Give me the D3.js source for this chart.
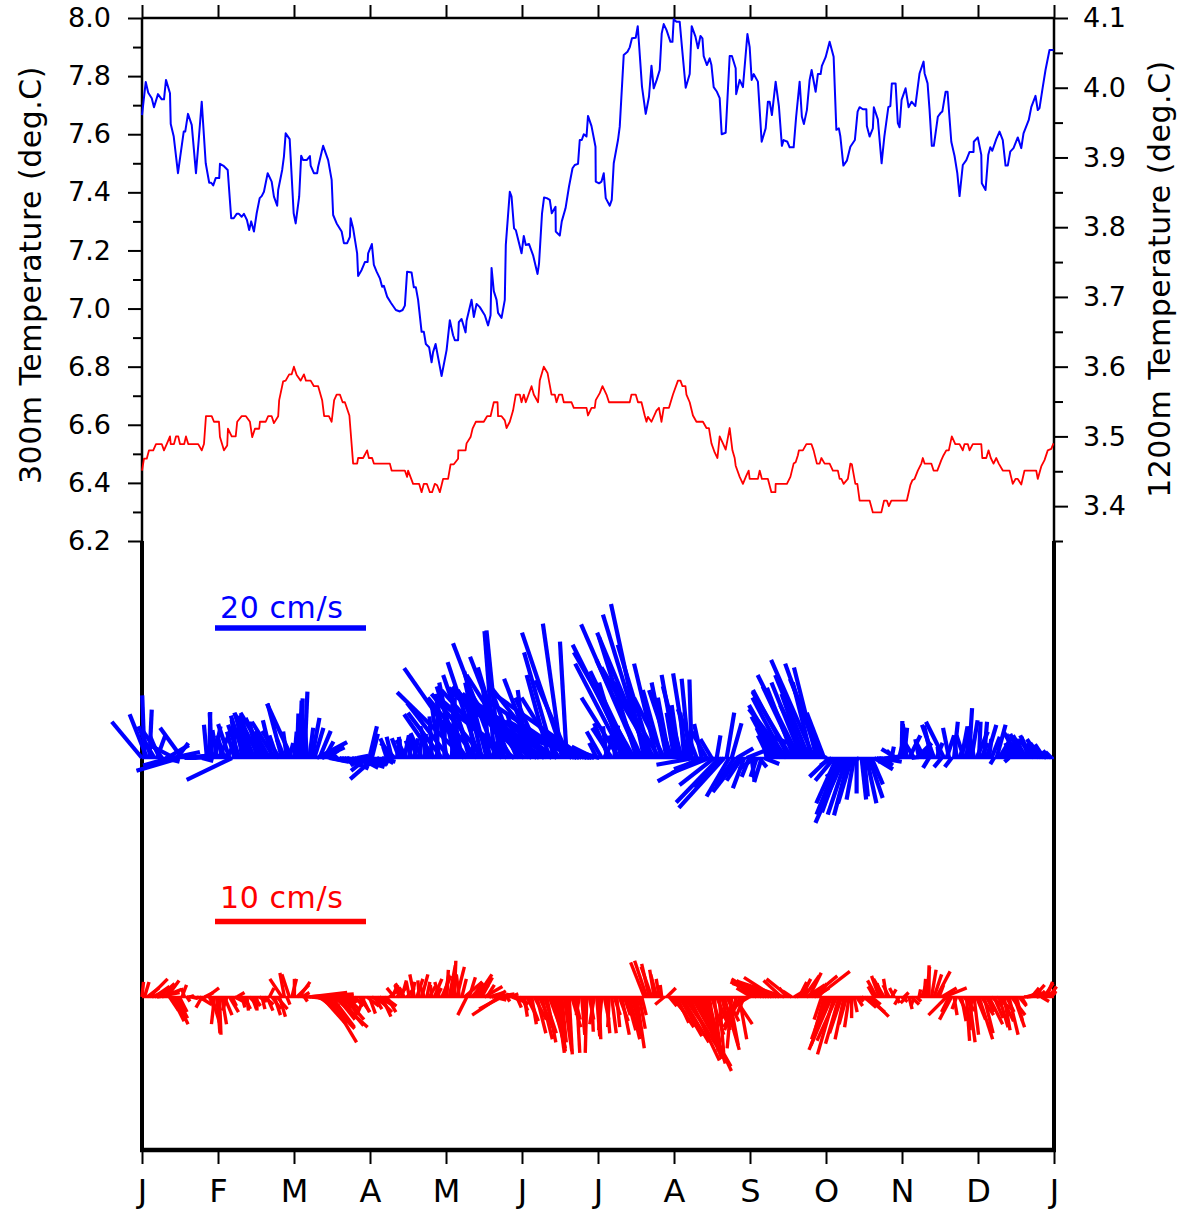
<!DOCTYPE html>
<html><head><meta charset="utf-8">
<script src="https://cdn.jsdelivr.net/npm/d3@7"></script>
<style>
body{margin:0;background:#fff}
text{font-family:"DejaVu Sans",Verdana,sans-serif}
</style></head>
<body><svg id="c" width="1187" height="1210"></svg>
<script>
// ---------- DATA ----------
const monthLabels = ["J","F","M","A","M","J","J","A","S","O","N","D","J"];
const monthTicks = [0,30.42,60.83,91.25,121.67,152.08,182.5,212.92,243.33,273.75,304.17,334.58,365];
const leftTicks = [6.2,6.4,6.6,6.8,7.0,7.2,7.4,7.6,7.8,8.0];
const leftMinor = [6.3,6.5,6.7,6.9,7.1,7.3,7.5,7.7,7.9];
const rightTicks = [3.4,3.5,3.6,3.7,3.8,3.9,4.0,4.1];
const rightMinor = [3.35,3.45,3.55,3.65,3.75,3.85,3.95,4.05];

// 300 m temperature: [day of year, deg C]
const temp300 = [[0,7.666],[1.5,7.78],[2.5,7.743],[3.9,7.724],[4.8,7.693],[6.4,7.738],[7.9,7.72],[8.8,7.72],[9.6,7.787],[11.2,7.741],[11.5,7.635],[12.7,7.592],[14.4,7.466],[15.3,7.523],[16.7,7.609],[17.3,7.609],[18.4,7.67],[19.9,7.632],[21.6,7.466],[22.7,7.58],[23.9,7.712],[25.5,7.5],[26.9,7.433],[27.7,7.433],[28.5,7.424],[29.5,7.449],[30.9,7.449],[31.2,7.498],[32.8,7.49],[34.3,7.477],[35.7,7.311],[36.7,7.311],[37.9,7.326],[38.8,7.326],[39.9,7.316],[40.8,7.326],[42.0,7.305],[42.9,7.27],[43.7,7.3],[44.8,7.265],[45.9,7.328],[47.1,7.38],[47.9,7.387],[48.8,7.402],[50.3,7.466],[51.9,7.437],[52.8,7.385],[54.1,7.354],[54.5,7.408],[56.1,7.477],[56.8,7.523],[57.5,7.603],[59.1,7.583],[60.7,7.328],[61.5,7.293],[62.9,7.385],[63.7,7.526],[64.5,7.511],[65.9,7.511],[67.2,7.525],[67.5,7.492],[68.8,7.466],[70.1,7.466],[70.5,7.488],[72.5,7.56],[74.5,7.511],[75.9,7.443],[76.5,7.322],[77.9,7.293],[79.9,7.265],[80.8,7.225],[82.1,7.225],[83.2,7.247],[83.5,7.311],[84.5,7.276],[86.1,7.19],[86.5,7.112],[87.9,7.133],[89.2,7.16],[90.3,7.16],[90.5,7.19],[92.0,7.222],[92.8,7.15],[93.9,7.127],[95.2,7.104],[96.1,7.075],[96.8,7.078],[98.1,7.041],[99.6,7.02],[101.6,6.995],[103.2,6.99],[104.3,6.995],[105.2,7.01],[106.1,7.127],[107.9,7.124],[108.8,7.073],[109.6,7.073],[110.5,7.03],[111.9,6.92],[112.8,6.92],[113.6,6.878],[114.9,6.867],[115.9,6.815],[116.5,6.85],[117.5,6.878],[118.5,6.832],[119.9,6.768],[121.9,6.857],[123.2,6.96],[124.5,6.908],[125.2,6.891],[126.5,6.891],[126.8,6.953],[127.9,6.964],[129.5,6.918],[129.9,6.958],[131.9,7.03],[132.8,6.971],[133.9,7.016],[135.2,7.005],[137.2,6.977],[138.5,6.942],[139.5,6.977],[139.9,7.14],[140.8,7.06],[141.9,7.03],[142.5,6.985],[143.9,6.968],[145.2,7.03],[145.6,7.219],[147.2,7.402],[147.9,7.385],[148.9,7.276],[149.6,7.27],[151.9,7.19],[152.8,7.25],[153.6,7.219],[154.9,7.222],[156.5,7.184],[158.3,7.119],[158.9,7.155],[160.1,7.328],[160.9,7.382],[162.0,7.38],[163.2,7.374],[164.0,7.328],[165.5,7.35],[165.6,7.265],[167.2,7.251],[168.0,7.3],[169.5,7.345],[170.9,7.42],[172.3,7.483],[173.2,7.494],[174.5,7.498],[175.2,7.58],[176.0,7.58],[176.8,7.6],[177.9,7.592],[178.5,7.663],[179.9,7.628],[181.5,7.557],[181.6,7.437],[182.9,7.431],[183.9,7.437],[184.8,7.466],[185.6,7.38],[187.2,7.354],[188.0,7.374],[188.8,7.5],[190.5,7.58],[191.2,7.626],[192.8,7.873],[194.3,7.884],[195.2,7.899],[196.1,7.93],[197.6,7.932],[198.4,7.972],[198.9,7.913],[200.1,7.764],[201.6,7.67],[202.9,7.729],[203.9,7.836],[204.8,7.758],[206.0,7.787],[207.2,7.821],[208.0,7.947],[208.8,7.979],[209.9,7.959],[211.5,7.918],[212.3,7.918],[212.8,7.996],[213.9,7.987],[215.2,7.987],[216.1,7.9],[217.6,7.76],[219.2,7.807],[220.0,7.972],[221.5,7.936],[222.5,7.896],[223.5,7.938],[224.3,7.93],[224.8,7.869],[226.1,7.838],[227.2,7.861],[227.9,7.838],[228.8,7.762],[230.1,7.746],[231.2,7.724],[232.0,7.6],[233.6,7.605],[235.2,7.869],[236.1,7.869],[237.6,7.827],[237.8,7.738],[239.2,7.787],[240.5,7.762],[242.3,7.945],[243.2,7.9],[244.0,7.787],[244.8,7.807],[246.5,7.781],[248.0,7.574],[249.6,7.62],[250.5,7.712],[251.2,7.712],[252.1,7.666],[253.6,7.781],[254.9,7.697],[256.1,7.56],[256.8,7.58],[258.3,7.574],[259.2,7.555],[260.8,7.555],[261.8,7.66],[263.2,7.781],[264.1,7.66],[264.9,7.635],[266.1,7.683],[267.2,7.787],[268.0,7.821],[269.6,7.746],[270.5,7.807],[271.6,7.807],[272.1,7.835],[273.6,7.865],[275.2,7.918],[276.8,7.867],[277.9,7.615],[278.9,7.62],[279.5,7.592],[280.7,7.492],[282.1,7.509],[283.5,7.557],[285.3,7.58],[286.4,7.678],[287.2,7.693],[288.5,7.686],[289.9,7.686],[290.1,7.628],[291.2,7.592],[292.5,7.62],[292.9,7.693],[294.5,7.651],[296.0,7.5],[297.1,7.592],[298.7,7.693],[299.5,7.697],[300.1,7.775],[301.6,7.775],[302.5,7.638],[303.2,7.624],[304.0,7.718],[305.6,7.758],[306.8,7.693],[308.0,7.712],[309.5,7.697],[311.2,7.81],[312.8,7.85],[313.2,7.81],[314.4,7.775],[315.2,7.683],[316.1,7.56],[316.9,7.56],[318.5,7.66],[319.5,7.672],[320.3,7.678],[321.6,7.746],[322.4,7.746],[323.9,7.574],[325.2,7.525],[326.3,7.466],[327.2,7.387],[328.5,7.494],[329.9,7.511],[331.2,7.539],[332.8,7.539],[332.9,7.574],[334.5,7.589],[335.9,7.529],[336.1,7.431],[337.6,7.408],[338.7,7.529],[339.5,7.555],[340.3,7.543],[341.9,7.583],[343.2,7.609],[344.5,7.58],[345.6,7.492],[346.5,7.492],[347.5,7.54],[348.8,7.552],[350.5,7.589],[351.9,7.552],[352.8,7.603],[354.9,7.649],[355.9,7.693],[357.6,7.732],[358.5,7.683],[359.2,7.69],[360.5,7.762],[361.6,7.821],[363.2,7.89],[364.8,7.89]];

// 1200 m temperature: [day of year, deg C] (right axis)
const temp1200 = [[0,3.451],[0.8,3.468],[1.9,3.468],[2.8,3.48],[4.5,3.48],[5.6,3.489],[7.9,3.489],[8.8,3.48],[9.9,3.489],[11.2,3.5],[11.5,3.489],[12.8,3.489],[13.6,3.5],[14.5,3.5],[15.2,3.489],[16.9,3.489],[17.6,3.5],[18.5,3.489],[22.5,3.489],[23.9,3.48],[24.8,3.489],[25.6,3.529],[27.9,3.529],[28.8,3.521],[30.8,3.521],[31.2,3.499],[32.8,3.48],[34.1,3.487],[34.4,3.511],[35.9,3.5],[37.5,3.5],[38.1,3.521],[39.9,3.529],[41.6,3.529],[43.2,3.521],[44.1,3.499],[45.2,3.511],[46.9,3.511],[47.2,3.521],[49.5,3.521],[50.5,3.529],[51.9,3.529],[52.8,3.519],[54.5,3.529],[54.9,3.552],[56.5,3.579],[57.5,3.58],[58.9,3.589],[59.9,3.589],[60.8,3.6],[61.9,3.588],[63.5,3.58],[64.8,3.589],[65.6,3.58],[67.5,3.58],[68.8,3.572],[70.5,3.572],[72.1,3.552],[72.9,3.529],[74.8,3.529],[75.9,3.521],[76.9,3.552],[77.9,3.56],[79.2,3.56],[80.3,3.549],[81.2,3.549],[83.0,3.53],[84.5,3.461],[86.1,3.461],[86.5,3.469],[88.5,3.469],[90.1,3.48],[90.8,3.469],[92.1,3.469],[92.8,3.461],[99.2,3.461],[99.9,3.451],[105.2,3.451],[106.1,3.442],[106.5,3.451],[108.5,3.432],[110.9,3.432],[111.9,3.42],[112.8,3.432],[114.0,3.432],[115.2,3.42],[116.1,3.42],[117.2,3.432],[118.1,3.43],[119.2,3.42],[120.5,3.439],[122.5,3.439],[123.5,3.46],[124.8,3.46],[126.5,3.468],[126.6,3.48],[129.5,3.48],[129.9,3.49],[131.5,3.499],[132.3,3.511],[133.6,3.521],[136.8,3.521],[138.1,3.529],[139.5,3.529],[140.8,3.549],[142.3,3.549],[142.5,3.529],[143.9,3.529],[145.2,3.523],[145.9,3.512],[147.2,3.521],[148.5,3.537],[149.6,3.56],[151.2,3.56],[151.9,3.549],[152.8,3.56],[153.6,3.549],[155.9,3.572],[156.8,3.56],[158.5,3.549],[159.2,3.58],[160.8,3.6],[162.3,3.591],[163.9,3.56],[165.2,3.56],[165.9,3.549],[166.9,3.56],[168.1,3.56],[168.8,3.549],[171.9,3.549],[172.8,3.541],[177.9,3.541],[178.5,3.53],[179.9,3.541],[181.2,3.541],[181.6,3.552],[183.2,3.562],[184.3,3.572],[185.9,3.56],[186.9,3.549],[195.2,3.549],[195.9,3.56],[197.6,3.56],[198.5,3.549],[199.9,3.549],[201.2,3.53],[201.9,3.521],[202.5,3.528],[203.9,3.521],[205.9,3.537],[206.9,3.541],[207.9,3.521],[208.8,3.541],[210.9,3.541],[212.5,3.56],[214.5,3.58],[215.5,3.58],[216.3,3.572],[217.5,3.572],[217.9,3.56],[219.2,3.549],[220.5,3.53],[221.9,3.521],[224.5,3.521],[225.9,3.512],[226.9,3.512],[227.9,3.49],[229.2,3.477],[230.3,3.469],[231.2,3.5],[232.5,3.49],[233.6,3.481],[235.2,3.512],[236.3,3.48],[237.2,3.469],[237.6,3.458],[239.2,3.442],[240.5,3.432],[241.9,3.444],[242.8,3.451],[243.2,3.439],[246.5,3.439],[247.2,3.451],[248.1,3.439],[250.5,3.439],[251.9,3.42],[253.5,3.42],[253.6,3.432],[258.1,3.432],[259.5,3.442],[260.8,3.461],[261.6,3.463],[262.5,3.473],[262.9,3.48],[264.5,3.48],[265.9,3.489],[267.9,3.489],[268.8,3.48],[270.1,3.461],[271.2,3.461],[271.9,3.469],[273.2,3.461],[275.2,3.461],[276.5,3.451],[278.5,3.451],[279.2,3.439],[279.9,3.439],[280.8,3.432],[282.5,3.439],[283.5,3.461],[284.1,3.46],[285.5,3.432],[286.3,3.432],[287.2,3.408],[291.2,3.408],[292.5,3.391],[295.9,3.391],[297.0,3.408],[298.1,3.408],[298.9,3.4],[299.9,3.408],[306.1,3.408],[307.5,3.43],[308.3,3.437],[309.2,3.439],[310.5,3.451],[311.9,3.461],[312.5,3.469],[313.2,3.461],[315.9,3.461],[316.8,3.451],[318.3,3.451],[319.9,3.466],[320.8,3.473],[321.9,3.48],[322.9,3.48],[324.1,3.5],[325.5,3.489],[327.2,3.489],[328.5,3.48],[329.2,3.489],[330.5,3.489],[331.2,3.48],[332.5,3.489],[335.9,3.489],[336.3,3.469],[337.9,3.469],[338.8,3.48],[339.7,3.469],[340.8,3.461],[341.9,3.469],[342.9,3.461],[344.5,3.451],[347.2,3.451],[348.5,3.432],[349.6,3.439],[350.5,3.439],[351.9,3.431],[353.2,3.451],[357.9,3.451],[358.5,3.439],[359.9,3.457],[361.2,3.466],[362.5,3.48],[363.9,3.482],[364.8,3.49]];

// 300 m current vectors: [day, east cm/s, north cm/s]
const current300 = [[0,-4.0,4.8],[1,-0.3,8.3],[2,-2.3,5.8],[3,0.3,6.4],[4,-1.8,4.2],[5,-1.5,2.5],[6,1.1,3.0],[7,-1.3,3.0],[8,-2.5,3.5],[9,2.0,-0.5],[10,2.9,1.7],[11,-3.5,-1.0],[12,3.7,0.8],[13,-3.3,1.7],[14,1.5,2.0],[15,-5.7,-1.7],[16,-2.9,4.0],[17,3.3,0.1],[18,2.5,0.3],[19,5.3,0.4],[20,3.0,0.5],[22,-1.0,0.5],[24,1.5,-0.4],
[26,-0.4,4.4],[27,0.1,6.1],[28,-0.3,6.0],[29,0.8,4.2],[30,-0.6,3.7],[31,1.6,4.0],[32,-0.5,2.5],[33,-1.0,3.0],[34,1.0,2.0],[35,-1.5,4.5],[36,-6.0,-2.9],[37,-1.0,3.5],
[38,-0.7,5.1],[39,-1.5,4.4],[40,-0.6,5.3],[41,-1.8,5.6],[42,-1.2,4.0],[43,-2.0,6.0],[44,-1.4,5.5],[45,-2.6,5.9],[46,-1.0,4.8],[47,-2.8,5.6],[48,-1.7,4.5],[49,-2.5,5.3],[50,-3.5,6.0],[51,-2.0,3.5],[52,-1.2,5.0],[53,-3.0,4.8],[54,-1.0,3.0],[55,-2.3,3.6],[56,-1.9,7.2],[57,-1.0,2.5],[58,-0.5,3.5],[59,0.5,2.0],[60,-3.3,7.2],[61,0.3,3.5],
[62,0.2,5.9],[63,0.3,7.6],[64,0.1,7.9],[65,0.4,8.8],[66,-0.3,5.0],[67,0.5,4.0],[68,1.0,5.3],[69,1.2,4.0],[70,4.0,2.1],[71,1.5,3.6],[72,3.0,1.4],[73,1.2,2.2],[74,1.5,1.0],[75,2.5,-0.5],[76,1.8,-0.4],[77,3.5,-0.8],[78,-0.5,0.5],[79,2.8,-1.0],[80,2.0,-0.6],[81,3.2,-1.4],[82,1.0,-0.3],[83,-0.5,-0.3],[84,2.2,-0.7],[85,4.0,-1.2],[86,1.5,0.3],[87,2.5,-1.3],[88,-1.5,-1.0],[89,3.0,-0.9],[90,-2.1,-1.7],[91,1.0,4.2],[92,0.8,3.2],[93,-3.2,-2.8],[94,1.5,-0.8],[95,-2.0,-1.2],[96,1.8,-0.5],[97,1.2,-0.7],[98,-0.5,1.5],
[99,-1.2,2.6],[100,-0.7,2.8],[101,-1.8,2.0],[102,0.4,2.5],[103,-1.0,2.6],[104,-0.4,2.8],[105,0.6,3.0],[106,-1.4,2.4],[107,0.2,3.0],[108,-0.8,2.3],[109,0.5,2.6],[110,-1.0,3.1],[111,0.3,2.4],[112,-1.5,3.3],[113,0.2,3.2],[114,-0.6,3.5],
[115,-1.2,4.2],[116,-0.3,5.5],[117,-4.0,5.8],[118,0.2,6.8],[119,-1.0,7.0],[120,-4.5,6.0],[121,0.1,7.0],[122,-1.5,8.5],[123,-5.6,7.3],[124,0.4,8.0],[125,-2.0,10.0],[126,-0.6,7.2],[127,-3.0,9.5],[128,-1.2,6.5],[129,-8.9,8.7],[130,-8.3,11.9],[131,-2.5,9.0],[132,-3.8,11.0],[133,-1.0,8.0],[134,-6.5,8.0],[135,-4.2,12.7],[136,-2.2,10.0],[137,-7.0,8.5],[138,-3.0,11.5],[139,-0.8,9.0],[140,-4.5,9.0],[141,-1.3,16.8],[142,-5.8,15.2],[143,-1.7,16.9],[144,-8.0,9.0],[145,-3.5,12.0],[146,-9.0,8.0],[147,-5.2,13.4],[148,-6.0,9.5],[149,-10.0,7.5],[150,-3.0,8.0],
[151,-7.0,11.0],[152,-2.0,6.0],[153,-9.5,9.5],[154,-1.2,9.0],[155,-6.0,7.0],[156,-11.0,9.0],[157,-4.0,10.5],[158,-8.5,6.5],[159,-12.0,9.3],[160,-3.5,8.0],[161,-11.5,8.0],[162,-7.5,9.5],[163,-3.0,11.0],[164,-10.0,6.5],[165,-4.0,14.0],[166,-12.5,8.5],[167,-5.0,8.0],[168,-2.5,17.8],[169,-5.6,16.6],[170,-0.9,15.4],[171,-4.5,10.3],[172,-11.0,7.5],[173,-9.0,5.0],[174,-12.0,6.0],[175,-7.0,3.5],[176,-4.4,2.8],[177,-12.0,8.5],[178,-9.0,4.0],[179,-6.0,2.0],[180,-10.0,3.0],[181,-3.0,1.5],[182,-1.0,2.0],[183,-6.0,1.8],[184,-2.0,3.5],[185,1.2,2.5],[186,-0.5,4.2],[187,-2.0,4.6],[188,-2.6,4.0],[189,0.5,4.3],[190,-1.0,3.0],
[191,-5.0,8.0],[192,-3.0,10.0],[193,-6.5,12.5],[194,-4.0,9.0],[195,-7.5,15.0],[196,-5.5,11.5],[197,-8.0,14.0],[198,-5.0,16.0],[199,-7.7,17.7],[200,-6.0,13.0],[201,-4.4,20.4],[202,-5.8,19.0],[203,-6.9,16.6],[204,-4.5,15.0],[205,-7.0,12.0],[206,-3.0,12.5],[207,-6.0,10.0],[208,-2.5,9.0],[209,-4.0,8.0],[210,-2.0,10.0],[211,-1.5,8.0],[212,-3.0,9.0],[213,-1.0,6.0],[214,-2.0,11.0],[215,-1.0,7.0],[216,-2.5,9.5],[217,-0.5,6.0],[218,-1.8,11.2],[219,-1.0,10.5],[220,-0.3,10.4],[221,-5.0,-0.9],[222,-2.5,6.5],[223,-5.5,-3.1],[224,-1.0,4.5],[225,-4.0,-1.5],[226,-2.0,3.5],[227,-5.0,-2.0],[228,-1.5,2.5],[229,-4.6,-3.6],[230,0.5,3.0],[231,-5.7,-5.9],[232,-3.5,-4.0],[233,-6.0,-6.6],[234,1.0,6.0],[235,-3.0,-5.1],[236,1.3,4.6],[237,-2.5,-3.8],[238,2.2,1.3],[239,-3.5,-4.5],[240,-2.0,-3.0],[241,-1.5,-4.0],[242,2.5,1.0],[243,-1.0,-2.5],[244,0.4,-3.1],[245,-2.0,-1.5],[246,-0.8,-2.5],[247,1.0,-1.2],[248,-1.0,-3.2],[249,2.0,-0.8],
[250,-0.5,2.5],[251,-1.5,3.0],[252,-2.0,4.0],[253,-3.0,5.5],[254,-2.5,4.5],[255,-4.0,7.0],[256,-3.5,5.0],[257,-4.2,8.0],[258,-5.0,6.5],[259,-4.8,9.0],[260,-5.2,8.8],[261,-3.6,9.3],[262,-4.5,9.5],[263,-5.5,11.0],[264,-4.0,10.0],[265,-3.0,8.5],[266,-3.5,7.0],[267,-4.5,11.0],[268,-2.5,10.0],[269,-5.7,13.0],[270,-3.0,12.0],[271,-4.5,12.5],[272,-4.2,10.5],[273,-2.3,6.0],[274,-9.0,3.5],[275,-2.6,-2.5],
[276,-1.5,-1.0],[277,-2.5,-3.0],[278,-2.7,-6.0],[279,-3.0,-7.5],[280,-2.6,-7.2],[281,-3.8,-8.6],[282,-2.5,-7.5],[283,-2.0,-7.6],[284,-1.8,-6.0],[285,-1.0,-5.5],[286,0.0,-4.7],[287,-4.4,-2.5],[288,0.6,-5.5],[289,0.5,-5.1],[290,1.3,-6.0],[291,1.8,-5.3],[292,1.5,-3.5],[293,2.5,-1.5],[294,2.0,-0.8],[295,3.0,-0.5],[296,1.5,-1.0],[297,2.0,-0.3],[298,2.5,0.3],[299,-1.5,-0.5],
[300,0.3,1.5],[301,-1.0,1.0],[302,-2.0,1.2],[303,0.5,2.0],[304,0.1,4.9],[305,0.4,4.0],[306,-0.5,4.5],[307,1.5,3.0],[308,2.6,0.4],[309,-1.5,2.5],[310,2.0,2.0],[311,-0.5,2.5],[312,1.0,1.2],[313,-1.0,2.0],[314,0.5,1.5],[315,-0.8,-1.3],[316,-1.0,4.3],[317,-1.6,4.4],[318,0.8,2.0],[319,-0.2,1.5],[320,-1.0,-1.2],[321,-2.4,4.8],[322,1.0,3.0],[323,-0.8,4.0],[324,-0.9,-1.2],[325,0.5,4.8],[326,-0.3,3.0],
[327,1.5,3.5],[328,0.8,4.2],[329,-1.0,3.0],[330,0.4,4.2],[331,0.4,6.6],[332,0.8,5.0],[333,-0.5,2.5],[334,1.5,3.5],[335,0.2,4.8],[336,0.8,2.0],[337,0.4,4.8],[338,1.3,4.4],[339,0.3,2.5],[340,1.1,2.8],[341,-0.5,-0.8],[342,1.2,4.4],[343,1.6,2.6],[344,0.8,1.5],[345,1.5,2.0],[346,0.5,1.0],[347,-0.6,-0.5],
[348,-0.8,2.0],[349,-1.0,3.2],[350,-0.5,2.0],[351,-2.0,3.4],[352,-1.5,3.2],[353,-1.0,2.5],[354,-1.8,3.0],[355,-1.0,2.8],[356,-1.5,3.0],[357,-2.0,2.5],[358,-1.2,2.0],[359,-1.6,2.5],[360,-1.5,2.0],[361,-1.2,1.8],[362,-1.5,1.2],[363,-0.8,1.0],[364,-0.8,0.8]];

// 1200 m current vectors: [day, east cm/s, north cm/s]
const current1200 = [[0,0.1,1.0],[1,0.3,1.0],[2,0.8,0.6],[3,1.2,1.2],[4,0.9,0.4],[5,1.0,0.7],[6,1.5,0.3],[7,1.0,0.9],[8,1.3,0.5],[9,0.5,0.6],[10,0.8,1.1],[11,0.6,-0.9],[12,0.8,-1.6],[13,0.9,-1.8],[14,0.7,-1.4],[15,0.5,-1.0],[16,0.3,0.8],[17,-0.2,0.6],[18,0.2,-0.3],[19,0.3,0.1],[20,0.4,-0.1],[21,-0.5,0.0],[22,0.6,-0.2],[23,0.8,-0.5],[24,-0.4,-0.7],[25,0.6,0.3],[26,0.8,0.6],[27,0.3,-0.7],[28,0.5,-1.7],[29,-0.2,-1.8],[30,0.2,-2.4],[31,0.1,-2.5],[32,0.3,-1.8],[33,0.5,-1.2],[34,-0.3,-0.9],[35,0.6,-1.0],[36,0.3,-0.6],[37,0.8,-0.4],[38,0.5,0.3],[39,0.6,-0.5],[40,0.2,-0.7],[41,0.4,-0.8],[42,0.1,-0.9],[43,0.5,-0.5],[44,0.3,-0.8],[45,0.4,-0.6],[46,0.0,-0.9],[47,0.5,-0.3],[48,0.2,-0.8],[49,0.6,-0.5],[50,0.4,-0.9],[51,0.3,0.6],[52,0.6,-0.8],[53,0.4,-1.2],[54,0.7,-0.8],[55,0.4,-1.3],[56,-0.8,1.2],[57,-0.3,1.6],[58,0.2,-0.5],[59,-0.5,1.5],[60,0.3,1.2],[61,0.0,1.2],[62,0.8,0.8],[63,0.7,1.0],[64,0.5,0.3],[65,0.2,-0.3],[66,3.1,0.2],[67,2.5,0.3],[68,1.8,-0.2],[69,2.6,0.1],[70,1.5,-0.6],[71,1.8,-1.4],[72,1.6,-1.8],[73,2.0,-2.1],[74,1.4,-1.6],[75,1.8,-3.0],[76,1.5,-2.0],[77,2.2,-2.0],[78,1.2,-1.5],[79,1.6,-1.9],[80,1.0,-1.0],[81,1.3,-1.5],[82,0.8,-0.8],[83,0.5,-1.2],[84,0.3,-0.4],[85,0.6,-0.6],[86,-0.6,-0.8],[87,0.7,-1.0],[88,0.5,-1.0],[89,-0.5,-1.2],[90,0.8,-0.6],[91,0.4,-1.1],[92,0.9,-0.5],[93,0.5,-0.8],[94,1.0,-1.0],[95,0.8,-0.5],[96,0.6,-1.3],[97,0.8,-0.6],[98,0.6,-1.0],[99,0.8,0.6],[100,0.4,0.8],[101,-0.5,0.6],[102,0.7,0.7],[103,-0.3,0.8],[104,0.3,1.1],[105,-0.6,0.9],[106,0.5,0.6],[107,-0.2,1.0],[108,0.2,1.0],[109,-0.3,1.5],[110,0.4,1.2],[111,-0.1,1.1],[112,0.4,1.5],[113,-0.3,0.8],[114,0.2,1.0],[115,0.4,0.7],[116,-0.1,0.8],[117,0.5,1.2],[118,0.3,0.6],[119,-0.3,1.0],[120,0.6,1.4],[121,0.3,1.5],[122,0.1,1.8],[123,0.4,2.1],[124,0.2,1.6],[125,0.1,2.4],[126,0.5,2.0],[127,-0.2,1.5],[128,0.3,1.2],[129,1.2,1.0],[130,-0.6,-1.2],[131,0.4,1.3],[132,0.8,0.9],[133,0.5,1.0],[134,1.0,1.5],[135,0.6,0.8],[136,0.7,1.3],[137,1.2,0.7],[138,0.5,0.8],[139,1.0,0.3],[140,1.5,0.2],[141,0.8,-0.2],[142,0.6,0.4],[143,-1.8,-1.2],[144,-1.5,-0.8],[145,0.3,0.2],[146,0.2,-0.3],[147,0.6,0.2],
[148,0.5,-0.2],[149,0.8,-0.4],[150,0.3,-0.7],[151,0.6,-0.5],[152,0.4,-0.9],[153,0.2,-1.3],[154,0.5,-1.0],[155,0.6,-1.6],[156,0.3,-1.8],[157,0.8,-1.5],[158,0.6,-2.4],[159,0.9,-2.0],[160,0.7,-2.8],[161,0.8,-2.4],[162,0.6,-3.0],[163,1.0,-2.7],[164,0.9,-3.4],[165,0.6,-2.8],[166,0.5,-3.7],[167,0.4,-3.6],[168,0.3,-3.0],[169,0.5,-3.6],[170,0.2,-2.5],[171,0.2,-3.8],[172,0.6,-2.0],[173,0.4,-1.5],[174,0.2,-3.7],[175,-0.2,-1.2],[176,0.2,-2.5],[177,0.0,-2.0],[178,-0.1,-3.7],[179,0.3,-1.5],[180,0.1,-2.3],[181,-0.3,-1.8],[182,0.2,-2.6],[183,0.1,-2.8],[184,-0.2,-2.2],[185,0.3,-1.5],[186,0.2,-2.4],[187,-0.1,-2.0],[188,0.3,-2.4],[189,0.4,-1.2],[190,0.2,-2.0],[191,0.6,-1.6],[192,0.5,-2.5],[193,0.4,-1.2],[194,0.6,-2.2],[195,0.7,-2.8],[196,0.5,-1.8],[197,0.4,-2.6],[198,0.5,-3.4],[199,0.4,-2.1],[200,0.3,-1.2],
[201,-0.9,2.3],[202,-0.8,2.4],[203,-0.5,2.2],[204,-0.7,2.0],[205,-0.3,1.8],[206,-0.4,1.5],[207,-0.2,1.2],[208,-0.1,0.8],[209,-0.6,-0.5],[210,0.6,0.6],
[211,0.5,-0.6],[212,1.0,-1.2],[213,1.3,-2.0],[214,0.8,-1.7],[215,1.5,-2.6],[216,1.8,-3.0],[217,1.5,-2.2],[218,2.2,-3.6],[219,2.0,-4.2],[220,2.6,-4.6],[221,1.7,-3.3],[222,2.3,-4.9],[223,1.5,-4.1],[224,1.2,-3.5],[225,1.4,-4.4],[226,0.9,-3.0],[227,0.6,-3.6],[228,0.8,-2.5],[229,0.4,-3.5],[230,0.9,-2.2],[231,0.3,-3.7],[232,0.5,-2.0],[233,1.0,-3.5],[234,0.8,-1.6],[235,0.6,-3.2],[236,-0.3,-3.4],[237,1.2,-1.8],[238,-0.8,-2.2],[239,0.5,-2.8],[240,-1.2,-2.0],[241,-0.5,-1.2],[242,-1.8,-1.5],[243,-1.0,-0.6],
[244,-1.0,0.6],[245,-1.2,0.9],[246,-0.8,0.5],[247,-1.5,1.1],[248,-2.0,1.2],[249,-1.8,0.8],[250,-2.4,1.0],[251,-1.6,0.6],[252,-2.6,0.9],[253,-2.0,1.3],[254,-1.4,0.7],[255,-2.6,0.9],[256,-1.2,1.1],[257,-3.0,1.0],[258,-0.5,0.6],[259,-1.5,1.2],[260,-0.6,0.4],[261,0.5,0.3],
[262,0.8,0.5],[263,0.5,1.0],[264,0.6,1.2],[265,1.0,1.4],[266,1.2,0.8],[267,0.8,1.6],[268,1.7,1.4],[269,1.0,0.6],[270,2.2,1.7],[271,0.5,0.9],
[272,-0.5,-1.5],[273,-0.6,-2.2],[274,-1.0,-2.8],[275,-1.2,-3.2],[276,-1.5,-3.5],[277,-1.1,-3.8],[278,-1.3,-2.9],[279,-0.9,-3.1],[280,-0.8,-2.4],[281,-0.6,-2.8],[282,-0.5,-1.8],[283,-0.3,-2.0],[284,0.0,-1.4],[285,0.2,-1.0],[286,0.4,-0.6],[287,0.3,-0.3],[288,0.5,-0.2],[289,0.8,-0.7],[290,1.2,-1.0],[291,1.3,-1.3],[292,0.6,-0.5],
[293,-0.4,0.7],[294,-0.6,1.1],[295,-0.5,1.4],[296,-0.3,0.9],[297,-0.7,1.2],[298,-0.2,1.2],[299,-0.4,0.8],[300,0.3,0.5],[301,-0.3,0.6],[302,0.2,-0.4],[303,-0.3,-0.5],[304,0.4,-0.3],[305,0.3,0.3],[306,-0.4,-0.4],[307,0.2,-0.8],[308,0.5,-0.5],[309,-0.2,-0.6],[310,0.3,-0.3],[311,0.1,0.5],[312,0.3,0.8],[313,0.1,1.2],[314,0.2,2.0],[315,0.0,2.1],[316,0.3,1.8],[317,0.5,1.5],[318,0.9,1.7],[319,0.3,0.8],[320,1.0,0.6],[321,1.5,0.6],[322,-1.2,-1.2],
[323,-0.5,-1.0],[324,-0.8,-1.5],[325,0.2,-1.2],[326,-0.3,-0.8],[327,0.5,-1.0],[328,0.3,-1.6],[329,0.7,-0.9],[330,0.2,-2.9],[331,0.4,-3.0],[332,-0.1,-2.2],[333,0.3,-2.5],[334,0.6,-1.5],[335,0.9,-2.8],[336,0.8,-1.2],[337,0.6,-2.4],[338,0.5,-1.0],[339,0.9,-1.8],[340,0.7,-0.6],[341,0.6,-1.4],[342,1.0,-0.8],[343,0.6,-2.0],[344,0.8,-1.6],[345,0.4,-2.2],[346,0.5,-1.0],[347,0.6,-2.5],[348,0.9,-1.2],[349,0.7,-2.0],[350,0.4,-1.6],[351,0.5,-0.6],[352,0.3,-0.5],[353,1.2,0.1],[354,1.0,0.3],[355,0.8,0.4],[356,0.5,0.6],[357,0.7,0.8],[358,1.3,0.3],[359,0.4,0.4],[360,0.5,-0.3],[361,0.6,0.9],[362,0.4,1.0],[363,0.5,0.7],[364,0.3,0.4]];

const scaleBar300 = 20, scaleBar1200 = 10; // cm/s

// ---------- LAYOUT ----------
const X0 = 142, X1 = 1054, YT = 18, YB = 541, YBOT = 1150;
const BASE300 = 758, BASE1200 = 997;
const BLUE = "#0000ff", RED = "#ff0000";

const svg = d3.select("#c");
const x = d3.scaleLinear().domain([0, 365]).range([X0, X1]);
const yL = d3.scaleLinear().domain([6.2, 8.0]).range([YB, YT]);
const yR = d3.scaleLinear().domain([3.35, 4.1]).range([YB, YT]);
const len300 = d3.scaleLinear().domain([0, 20]).range([0, 151]);
const len1200 = d3.scaleLinear().domain([0, 10]).range([0, 151]);

function styleAxis(g, fs){
  g.select(".domain").remove();
  g.selectAll(".tick line").attr("stroke","#000").attr("stroke-width",2);
  g.selectAll(".tick text").attr("fill","#000").style("font-size",fs+"px").style("font-family",'"DejaVu Sans",Verdana,sans-serif');
}

// left axis
svg.append("g").attr("transform",`translate(${X0},0)`)
  .call(d3.axisLeft(yL).tickValues(leftTicks).tickFormat(d3.format(".1f")).tickSize(14).tickPadding(17))
  .call(g=>styleAxis(g,27));
svg.append("g").attr("transform",`translate(${X0},0)`)
  .call(d3.axisLeft(yL).tickValues(leftMinor).tickFormat("").tickSize(9))
  .call(g=>styleAxis(g,27));
// right axis
svg.append("g").attr("transform",`translate(${X1},0)`)
  .call(d3.axisRight(yR).tickValues(rightTicks).tickFormat(d3.format(".1f")).tickSize(14).tickPadding(15))
  .call(g=>styleAxis(g,27));
svg.append("g").attr("transform",`translate(${X1},0)`)
  .call(d3.axisRight(yR).tickValues(rightMinor).tickFormat("").tickSize(9))
  .call(g=>styleAxis(g,27));
// top axis (ticks only)
svg.append("g").attr("transform",`translate(0,${YT})`)
  .call(d3.axisTop(x).tickValues(monthTicks).tickFormat("").tickSize(13))
  .call(g=>styleAxis(g,27));
// bottom axis
svg.append("g").attr("transform",`translate(0,${YBOT})`)
  .call(d3.axisBottom(x).tickValues(monthTicks).tickFormat((d,i)=>monthLabels[i]).tickSize(14).tickPadding(15))
  .call(g=>styleAxis(g,32));

// frame lines
const frame = svg.append("g").attr("stroke","#000").attr("fill","none");
frame.append("line").attr("x1",X0).attr("x2",X1).attr("y1",YT).attr("y2",YT).attr("stroke-width",2.5);
frame.append("line").attr("x1",X0).attr("x2",X0).attr("y1",YT).attr("y2",YB).attr("stroke-width",2.5);
frame.append("line").attr("x1",X1).attr("x2",X1).attr("y1",YT).attr("y2",YB).attr("stroke-width",2.5);
frame.append("line").attr("x1",X0).attr("x2",X0).attr("y1",YB).attr("y2",YBOT).attr("stroke-width",4);
frame.append("line").attr("x1",X1).attr("x2",X1).attr("y1",YB).attr("y2",YBOT).attr("stroke-width",4);
frame.append("line").attr("x1",X0-2).attr("x2",X1+2).attr("y1",YBOT).attr("y2",YBOT).attr("stroke-width",4.5);

// temperature lines
svg.append("path").datum(temp300)
  .attr("d", d3.line().x(d=>x(d[0])).y(d=>yL(d[1])))
  .attr("fill","none").attr("stroke",BLUE).attr("stroke-width",2).attr("stroke-linejoin","round");
svg.append("path").datum(temp1200)
  .attr("d", d3.line().x(d=>x(d[0])).y(d=>yR(d[1])))
  .attr("fill","none").attr("stroke",RED).attr("stroke-width",1.8).attr("stroke-linejoin","round");

// stick plots
function sticks(data, base, len, color, w){
  const g = svg.append("g");
  g.append("line").attr("x1",X0).attr("x2",X1).attr("y1",base).attr("y2",base)
    .attr("stroke",color).attr("stroke-width",2.5);
  g.selectAll("line.s").data(data).join("line").attr("class","s")
    .attr("x1",d=>x(d[0])).attr("y1",base)
    .attr("x2",d=>x(d[0])+len(d[1])).attr("y2",d=>base-len(d[2]))
    .attr("stroke",color).attr("stroke-width",w).attr("stroke-linecap","butt");
}
sticks(current300, BASE300, len300, BLUE, 4.2);
sticks(current1200, BASE1200, len1200, RED, 3.4);

// scale bars
svg.append("line").attr("x1",215).attr("x2",215+len300(scaleBar300)).attr("y1",628).attr("y2",628)
  .attr("stroke",BLUE).attr("stroke-width",5.5);
svg.append("text").attr("x",220).attr("y",618).attr("fill",BLUE).style("font-size","30px").style("letter-spacing","0.6px").text(scaleBar300+" cm/s");
svg.append("line").attr("x1",215).attr("x2",215+len1200(scaleBar1200)).attr("y1",921.5).attr("y2",921.5)
  .attr("stroke",RED).attr("stroke-width",5.5);
svg.append("text").attr("x",220).attr("y",908).attr("fill",RED).style("font-size","30px").style("letter-spacing","0.6px").text(scaleBar1200+" cm/s");

// axis titles
svg.append("text").attr("transform","translate(41,275) rotate(-90)").attr("text-anchor","middle")
  .style("font-size","30px").style("letter-spacing","0.5px").attr("fill","#000").text("300m Temperature (deg.C)");
svg.append("text").attr("transform","translate(1170,279) rotate(-90)").attr("text-anchor","middle")
  .style("font-size","30px").style("letter-spacing","0.5px").attr("fill","#000").text("1200m Temperature (deg.C)");
</script>
</body></html>
